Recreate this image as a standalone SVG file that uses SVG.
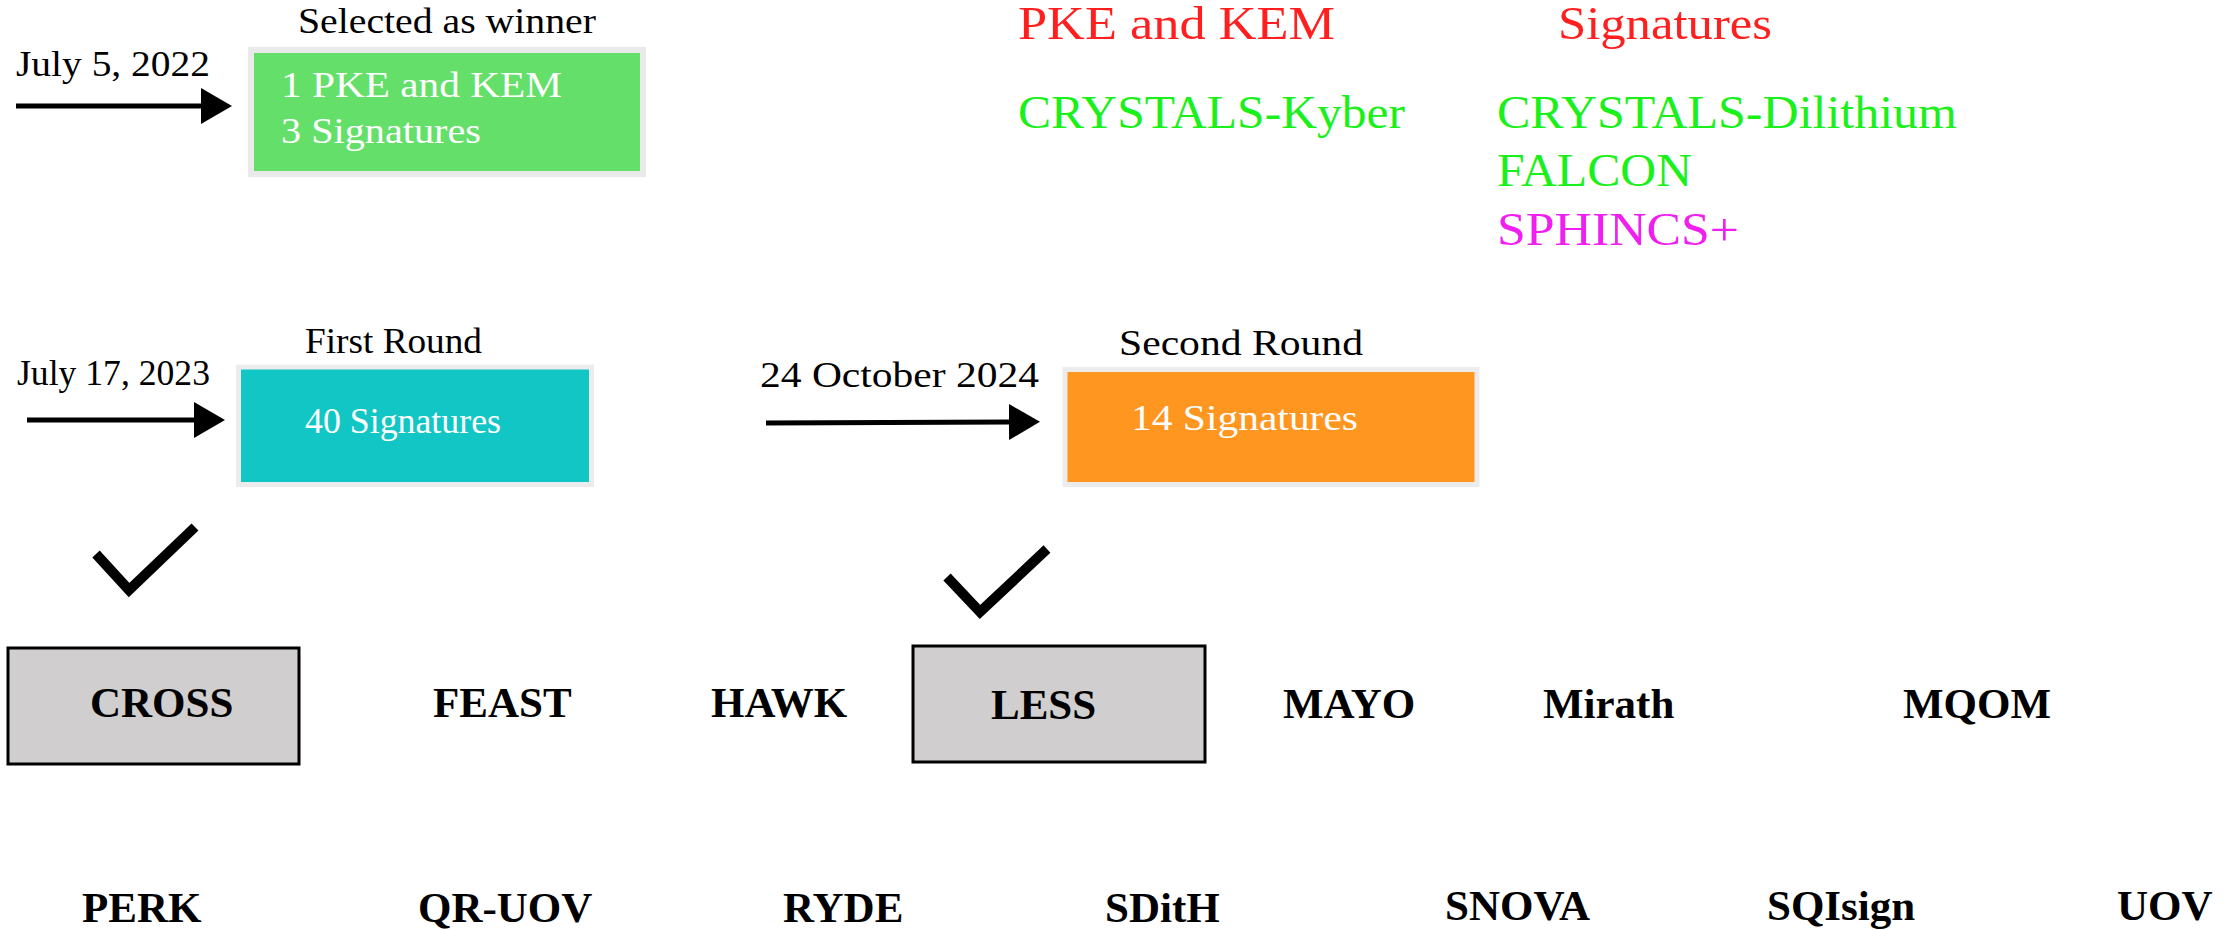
<svg xmlns="http://www.w3.org/2000/svg" width="2236" height="930" viewBox="0 0 2236 930">
  <style>
    .cm { font-family: "Liberation Serif", "Times New Roman", serif; fill: #000; }
    .wt { font-family: "Liberation Serif", "Times New Roman", serif; fill: #fff; }
    .big { font-family: "Liberation Serif", "Times New Roman", serif; font-size: 46px; }
    .red { fill: #FF1F1F; }
    .grn { fill: #1AF01A; }
    .mag { fill: #F01EF0; }
    .lbl { font-family: "Liberation Serif", "Times New Roman", serif; font-weight: bold; font-size: 43px; fill: #000; }
    .gbox { fill: #D0CECE; stroke: #000; stroke-width: 3; }
    .arrow { stroke: #000; stroke-width: 5; fill: none; }
    .check { stroke: #000; stroke-width: 10; fill: none; stroke-linejoin: miter; stroke-miterlimit: 10; }
  </style>
  <defs>
    <marker id="ah" markerUnits="userSpaceOnUse" markerWidth="32" markerHeight="36" refX="0" refY="18" orient="auto">
      <path d="M0,0 L31,18 L0,36 z" fill="#000"/>
    </marker>
  </defs>
  <rect width="2236" height="930" fill="#fff"/>

  <g id="connectors">
    <line class="arrow" x1="16" y1="106" x2="201" y2="106" marker-end="url(#ah)"/>
    <line class="arrow" x1="27" y1="420" x2="194" y2="420" marker-end="url(#ah)"/>
    <line class="arrow" x1="766" y1="423" x2="1009" y2="422" marker-end="url(#ah)"/>
  </g>

  <g id="date-2022">
    <text class="cm" x="16" y="76" font-size="36" textLength="194" lengthAdjust="spacingAndGlyphs">July 5, 2022</text>
  </g>
  <g id="winner">
    <text class="cm" x="298" y="33" font-size="35" textLength="298" lengthAdjust="spacingAndGlyphs">Selected as winner</text>
    <rect x="251" y="50" width="392" height="124" fill="#64E06A" stroke="#EAEAEA" stroke-width="6"/>
    <text class="wt" x="281" y="97" font-size="35" textLength="281" lengthAdjust="spacingAndGlyphs">1 PKE and KEM</text>
    <text class="wt" x="281" y="143" font-size="35" textLength="200" lengthAdjust="spacingAndGlyphs">3 Signatures</text>
  </g>

  <g id="winners-list">
    <text class="big red" x="1018" y="39" textLength="317" lengthAdjust="spacingAndGlyphs">PKE and KEM</text>
    <text class="big red" x="1558" y="39" textLength="214" lengthAdjust="spacingAndGlyphs">Signatures</text>
    <text class="big grn" x="1018" y="128" textLength="387" lengthAdjust="spacingAndGlyphs">CRYSTALS-Kyber</text>
    <text class="big grn" x="1497" y="128" textLength="460" lengthAdjust="spacingAndGlyphs">CRYSTALS-Dilithium</text>
    <text class="big grn" x="1497" y="186" textLength="195" lengthAdjust="spacingAndGlyphs">FALCON</text>
    <text class="big mag" x="1497" y="245" textLength="242" lengthAdjust="spacingAndGlyphs">SPHINCS+</text>
  </g>

  <g id="date-2023">
    <text class="cm" x="17" y="385" font-size="36" textLength="193" lengthAdjust="spacingAndGlyphs">July 17, 2023</text>
  </g>
  <g id="first-round">
    <text class="cm" x="305" y="353" font-size="35" textLength="177" lengthAdjust="spacingAndGlyphs">First Round</text>
    <rect x="238.5" y="367" width="353" height="117.5" fill="#13C6C6" stroke="#ECECEC" stroke-width="5"/>
    <text class="wt" x="305" y="433" font-size="35" textLength="196" lengthAdjust="spacingAndGlyphs">40 Signatures</text>
  </g>

  <g id="date-2024">
    <text class="cm" x="760" y="387" font-size="36" textLength="279" lengthAdjust="spacingAndGlyphs">24 October 2024</text>
  </g>
  <g id="second-round">
    <text class="cm" x="1119" y="355" font-size="36" textLength="244" lengthAdjust="spacingAndGlyphs">Second Round</text>
    <rect x="1065" y="369.5" width="412" height="115" fill="#FF9620" stroke="#ECECEC" stroke-width="5"/>
    <text class="wt" x="1131" y="430" font-size="36" textLength="227" lengthAdjust="spacingAndGlyphs">14 Signatures</text>
  </g>

  <g id="check-cross">
    <polyline class="check" points="96,554 129,590 195,527"/>
  </g>
  <g id="check-less">
    <polyline class="check" points="947,577 980,612 1047,549"/>
  </g>

  <g id="CROSS">
    <rect class="gbox" x="8" y="648" width="291" height="116"/>
    <text class="lbl" x="90" y="717">CROSS</text>
  </g>
  <g id="FEAST"><text class="lbl" x="433" y="717">FEAST</text></g>
  <g id="HAWK"><text class="lbl" x="711" y="717">HAWK</text></g>
  <g id="LESS">
    <rect class="gbox" x="913" y="646" width="292" height="116"/>
    <text class="lbl" x="991" y="719">LESS</text>
  </g>
  <g id="MAYO"><text class="lbl" x="1283" y="718">MAYO</text></g>
  <g id="Mirath"><text class="lbl" x="1543" y="718">Mirath</text></g>
  <g id="MQOM"><text class="lbl" x="1903" y="718">MQOM</text></g>

  <g id="PERK"><text class="lbl" x="82" y="922">PERK</text></g>
  <g id="QR-UOV"><text class="lbl" x="418" y="922">QR-UOV</text></g>
  <g id="RYDE"><text class="lbl" x="783" y="922">RYDE</text></g>
  <g id="SDitH"><text class="lbl" x="1105" y="922">SDitH</text></g>
  <g id="SNOVA"><text class="lbl" x="1445" y="920">SNOVA</text></g>
  <g id="SQIsign"><text class="lbl" x="1767" y="920">SQIsign</text></g>
  <g id="UOV"><text class="lbl" x="2117" y="920">UOV</text></g>
</svg>
